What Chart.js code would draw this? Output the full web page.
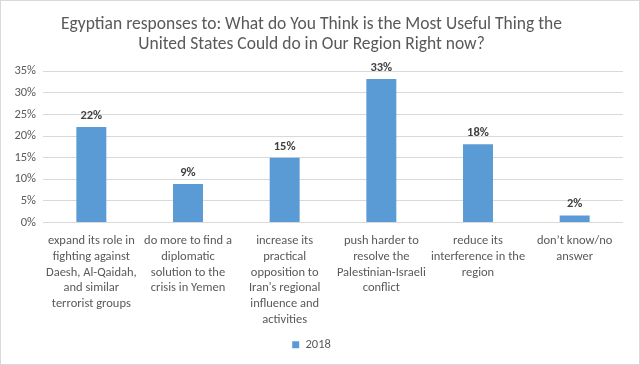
<!DOCTYPE html>
<html>
<head>
<meta charset="utf-8">
<script src="https://cdn.jsdelivr.net/npm/chart.js@4/dist/chart.umd.min.js"></script>
<style>
  html, body { margin:0; padding:0; background:#fff; }
  #wrap { width:640px; height:365px; }
</style>
</head>
<body>
<div id="wrap"><canvas id="chart" width="640" height="365"></canvas></div>
<script>
// chart data
const titleLines = ['Egyptian responses to: What do You Think is the Most Useful Thing the',
                    'United States Could do in Our Region Right now?'];
const categories = [
  ['expand its role in', 'fighting against', 'Daesh, Al-Qaidah,', 'and similar', 'terrorist groups'],
  ['do more to find a', 'diplomatic', 'solution to the', 'crisis in Yemen'],
  ['increase its', 'practical', 'opposition to', "Iran's regional", 'influence and', 'activities'],
  ['push harder to', 'resolve the', 'Palestinian-Israeli', 'conflict'],
  ['reduce its', 'interference in the', 'region'],
  ['don\u2019t know/no', 'answer']
];
const seriesName = '2018';
const values = [22.1, 8.9, 15.0, 33.2, 18.1, 1.6];
const yTicks = [0, 5, 10, 15, 20, 25, 30, 35];

const FONT = 'Carlito, Calibri, Lato, sans-serif';
const GREY = '#595959';

// border round the whole picture
const frame = {
  id: 'frame',
  afterDraw(chart) {
    const c = chart.ctx;
    c.save();
    c.strokeStyle = '#d9d9d9';
    c.lineWidth = 1;
    c.strokeRect(0.5, 0.5, chart.width - 1, chart.height - 1);
    c.restore();
  }
};

// value labels above bars
const barLabels = {
  id: 'barLabels',
  afterDatasetsDraw(chart) {
    const c = chart.ctx;
    const meta = chart.getDatasetMeta(0);
    c.save();
    c.font = 'bold 12.5px ' + FONT;
    c.fillStyle = '#404040';
    c.textAlign = 'center';
    c.textBaseline = 'bottom';
    meta.data.forEach((bar, i) => {
      c.fillText(Math.round(values[i]) + '%', bar.x, bar.y - 5);
    });
    c.restore();
  }
};

new Chart(document.getElementById('chart'), {
  type: 'bar',
  data: {
    labels: categories,
    datasets: [{
      label: seriesName,
      data: values,
      backgroundColor: '#5b9bd5',
      borderColor: '#5b9bd5',
      barPercentage: 0.31,
      categoryPercentage: 1
    }]
  },
  options: {
    responsive: false,
    animation: false,
    devicePixelRatio: 1,
    layout: { padding: { left: 0, right: 17, top: 0, bottom: 4 } },
    plugins: {
      title: {
        display: true,
        text: titleLines,
        color: GREY,
        font: { family: FONT, size: 17.5, weight: 'normal', lineHeight: 1.12 },
        padding: { top: 15, bottom: 17 }
      },
      legend: {
        display: true,
        position: 'bottom',
        labels: {
          color: GREY,
          font: { family: FONT, size: 12.5 },
          boxWidth: 7,
          boxHeight: 7,
          padding: 8
        }
      },
      tooltip: { enabled: false }
    },
    scales: {
      x: {
        grid: { display: false },
        border: { display: false },
        afterFit(scale) { scale.height = 108; },
        ticks: {
          color: GREY,
          font: { family: FONT, size: 12.5, lineHeight: 1.25 },
          maxRotation: 0,
          minRotation: 0,
          autoSkip: false,
          padding: 3
        }
      },
      y: {
        min: 0,
        max: 35,
        afterBuildTicks(scale) { scale.ticks = yTicks.map(v => ({ value: v })); },
        afterFit(scale) { scale.width = 43; },
        grid: { color: '#d9d9d9', drawTicks: false },
        border: { display: false },
        ticks: {
          color: GREY,
          font: { family: FONT, size: 12.5 },
          padding: 7,
          callback: v => v + '%'
        }
      }
    }
  },
  plugins: [frame, barLabels]
});
</script>
</body>
</html>
